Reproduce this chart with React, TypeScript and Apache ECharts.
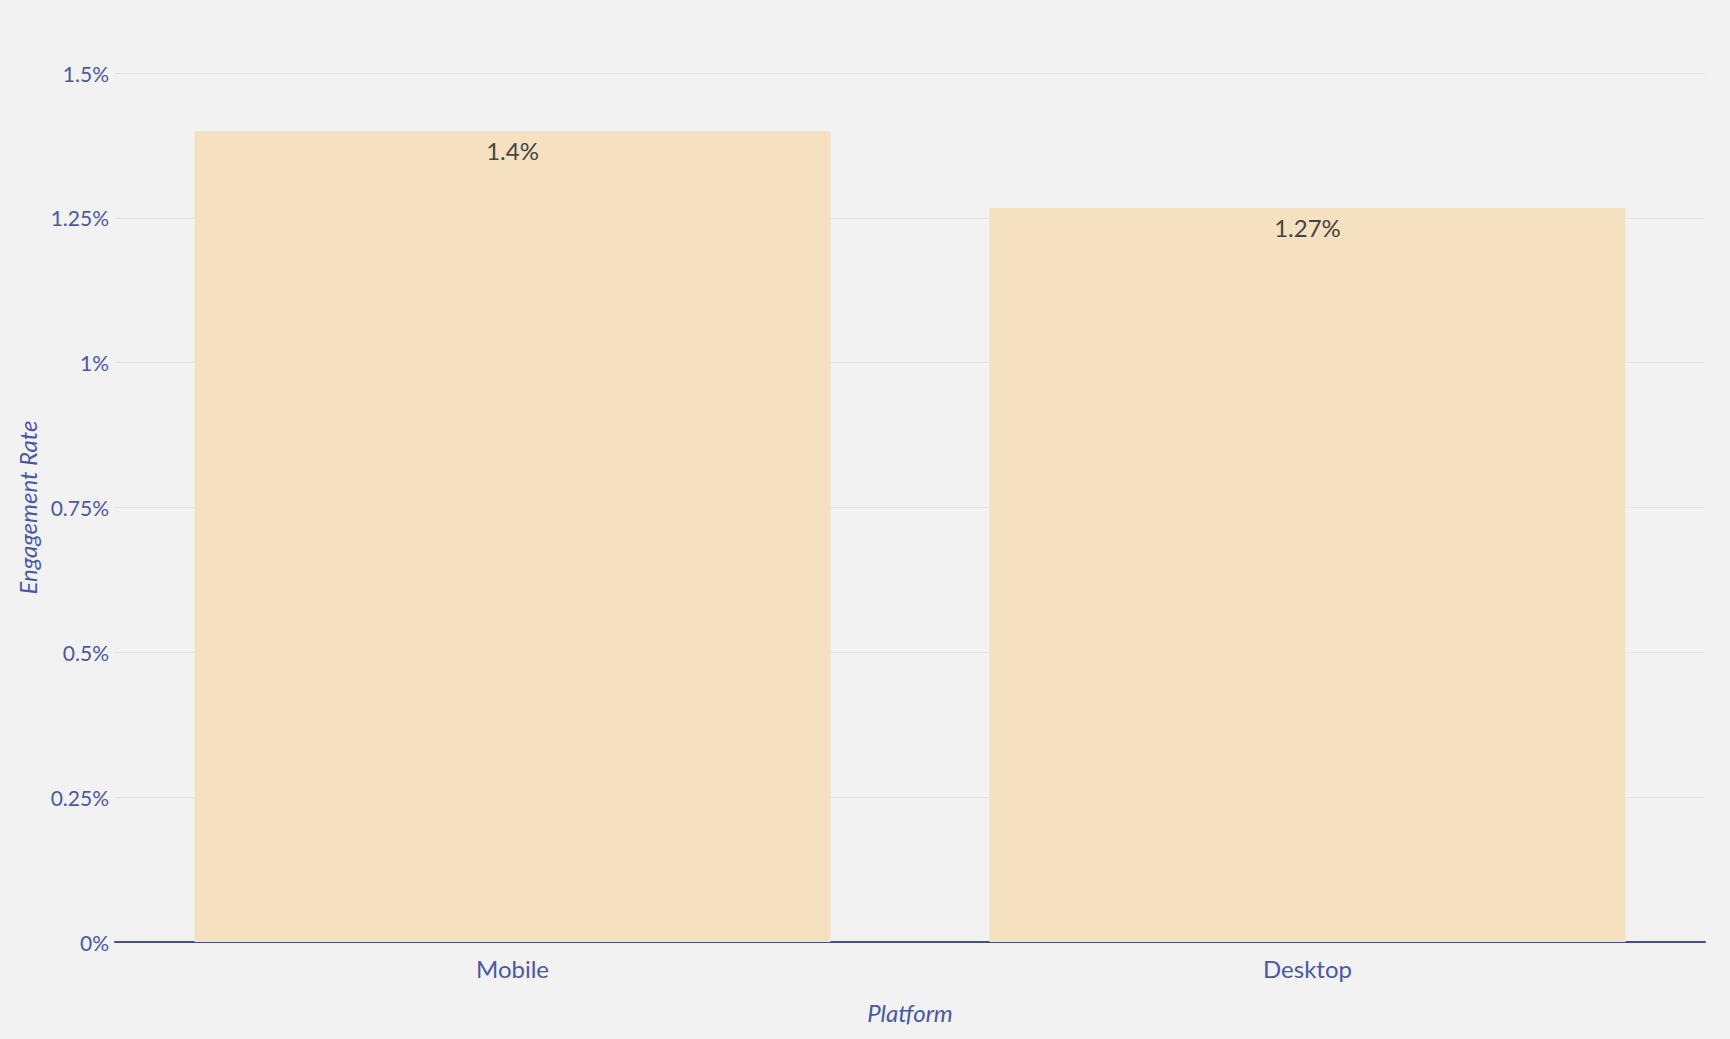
import React, { useEffect, useRef } from "react";
import * as echarts from "echarts";

const categories = ["Mobile", "Desktop"];
const engagementRates = [1.4, 1.267];
const yTicks = { min: 0, max: 1.5, interval: 0.25 };

const FONT = "Lato, 'Open Sans', sans-serif";
const AXIS_BLUE = "#4a58a6";

function fmt(v: number): string {
  return String(parseFloat(v.toFixed(2))) + "%";
}

export default function App() {
  const ref = useRef<HTMLDivElement>(null);
  useEffect(() => {
    document.body.style.margin = "0";
    const chart = echarts.init(ref.current!, undefined, { renderer: "svg" });
    chart.setOption({
      animation: false,
      backgroundColor: "#f2f2f2",
      grid: { left: 115, right: 25, top: 73, bottom: 97 },
      xAxis: {
        type: "category",
        data: categories,
        name: "Platform",
        nameLocation: "middle",
        nameGap: 58,
        nameTextStyle: { color: AXIS_BLUE, fontSize: 24, fontStyle: "italic", fontFamily: FONT },
        axisLine: { show: true, lineStyle: { color: "#44508a", width: 2 } },
        axisTick: { show: false },
        axisLabel: { color: AXIS_BLUE, fontSize: 24, fontFamily: FONT, margin: 14 },
      },
      yAxis: {
        type: "value",
        min: yTicks.min,
        max: yTicks.max,
        interval: yTicks.interval,
        name: "Engagement Rate",
        nameLocation: "middle",
        nameGap: 68,
        nameTextStyle: { color: AXIS_BLUE, fontSize: 24, fontStyle: "italic", fontFamily: FONT },
        axisLine: { show: false },
        axisTick: { show: false },
        axisLabel: { color: AXIS_BLUE, fontSize: 21, fontFamily: FONT, margin: 6, formatter: (v: number) => fmt(v) },
        splitLine: { lineStyle: { color: "#e3e3e3", width: 1 } },
      },
      series: [
        {
          type: "bar",
          data: engagementRates,
          barCategoryGap: "20%",
          itemStyle: { color: "#f5e1c0" },
          label: {
            show: true,
            position: "insideTop",
            distance: 8,
            color: "#444444",
            fontSize: 24,
            fontFamily: FONT,
            formatter: (p: any) => fmt(p.value),
          },
        },
      ],
    });
    return () => chart.dispose();
  }, []);
  return <div ref={ref} style={{ width: 1730, height: 1039 }} />;
}
